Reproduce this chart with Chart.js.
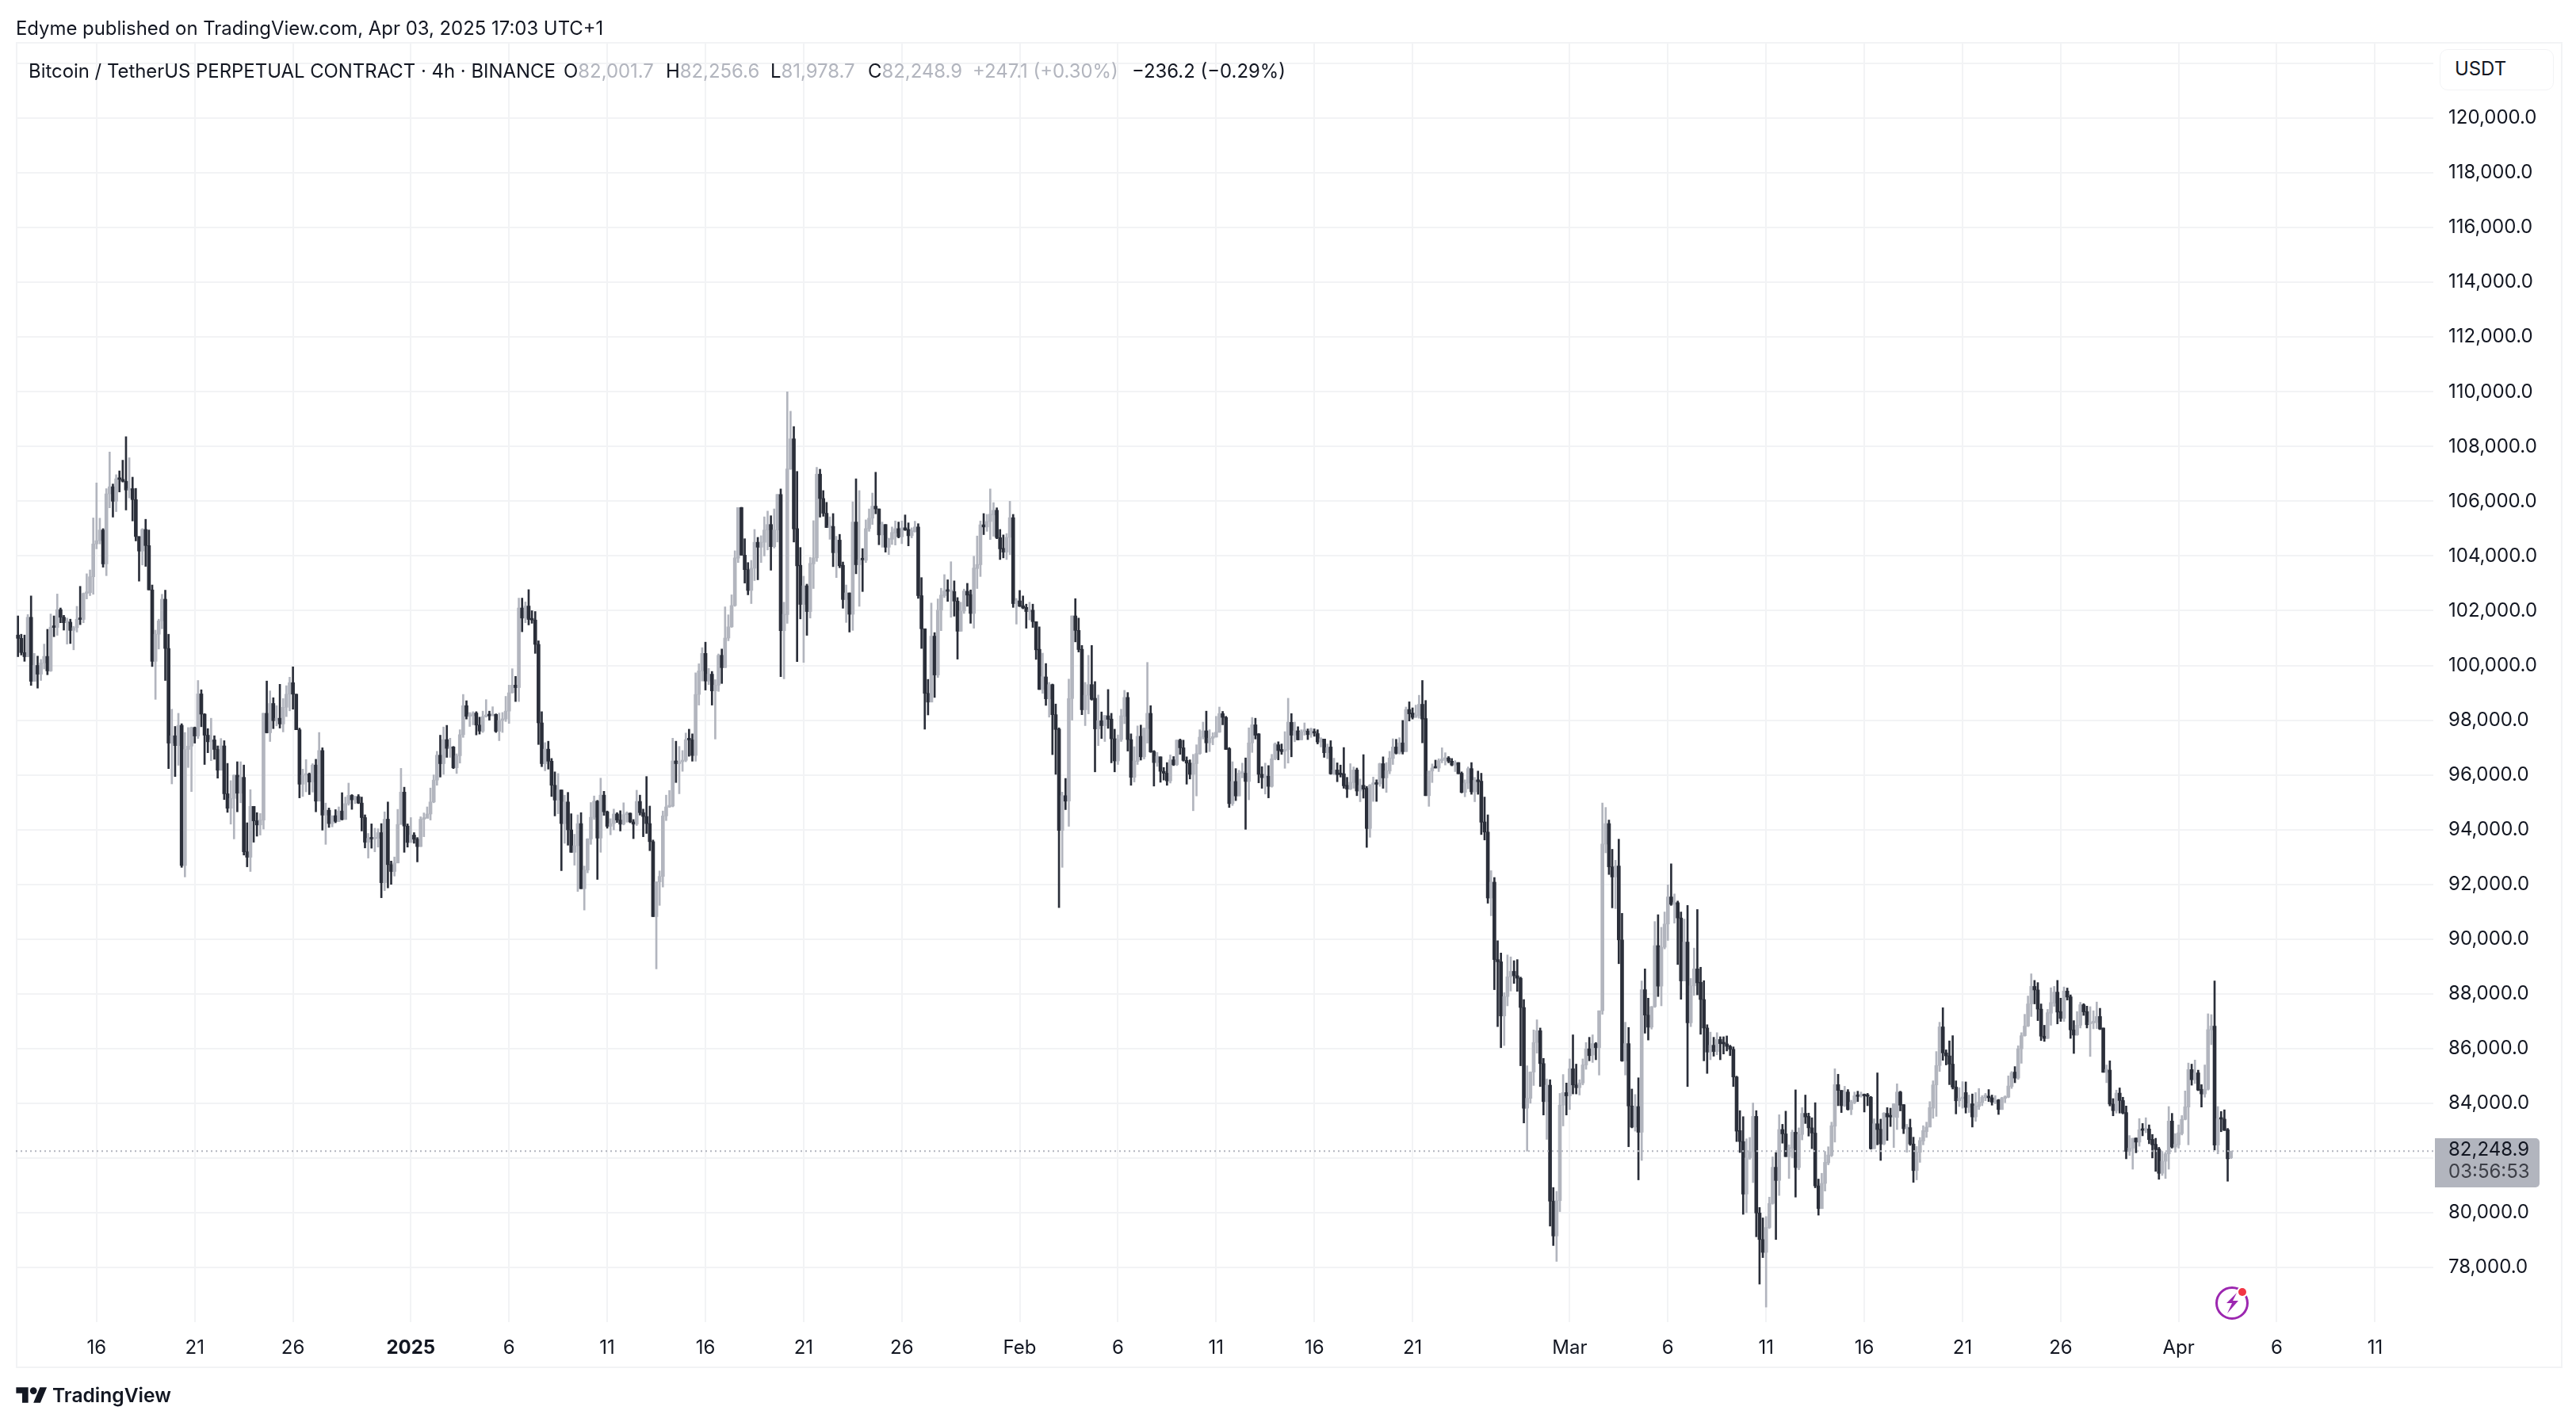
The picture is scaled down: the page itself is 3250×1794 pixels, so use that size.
<!DOCTYPE html>
<html>
<head>
<meta charset="utf-8">
<title>Bitcoin / TetherUS PERPETUAL CONTRACT</title>
<script src="https://cdn.jsdelivr.net/npm/chart.js@4/dist/chart.umd.js"></script>
<style>
html,body{margin:0;padding:0;background:#fff;width:3250px;height:1794px;overflow:hidden}
body{position:relative;font-family:Inter,"Liberation Sans",sans-serif;color:#131722}
canvas{position:absolute;left:0;top:0}
.t{position:absolute;white-space:nowrap;font-size:23.9px;line-height:30px;color:#131722}
.g{color:#b2b5be}
#frame{position:absolute;left:20px;top:53px;width:3209px;height:1669px;border:2px solid #f2f3f5;box-sizing:content-box}
#tag{position:absolute;left:3072px;width:132px;height:62px;background:#b2b5be;border-radius:0 5px 5px 0}
#unit{position:absolute;left:3078px;top:62px;width:144px;height:52px;box-sizing:border-box;border:1.5px solid #f2f3f5;border-radius:10px;background:#fff}
</style>
</head>
<body>
<div id="frame"></div>
<canvas id="c" width="3250" height="1794"></canvas>
<div class="t" style="left:20px;top:21px">Edyme published on TradingView.com, Apr 03, 2025 17:03 UTC+1</div>
<div class="t" style="left:36px;top:75px">Bitcoin / TetherUS PERPETUAL CONTRACT · 4h · BINANCE</div>
<div class="t" style="left:711px;top:75px">O<span class="g">82,001.7</span></div>
<div class="t" style="left:840px;top:75px">H<span class="g">82,256.6</span></div>
<div class="t" style="left:972px;top:75px">L<span class="g">81,978.7</span></div>
<div class="t" style="left:1095px;top:75px">C<span class="g">82,248.9</span></div>
<div class="t g" style="left:1227px;top:75px">+247.1 (+0.30%)</div>
<div class="t" style="left:1428px;top:75px">−236.2 (−0.29%)</div>
<div id="unit"></div>
<div class="t" style="left:3097px;top:72px">USDT</div>
<div id="tag"></div>
<div class="t" id="tagPrice" style="left:3089px;font-size:24px">82,248.9</div>
<div class="t" id="tagTime" style="left:3089px;font-size:24px;color:#3d3f47">03:56:53</div>
<svg style="position:absolute;left:20px;top:1748px" width="40" height="24" viewBox="0 0 36 22"><path fill="#131722" d="M14 20H7V9H0V2h14v18zM28 20h-8l7.5-18h8L28 20z"/><circle cx="20" cy="6" r="4" fill="#131722"/></svg>
<div class="t" style="left:66px;top:1745px;font-size:24.6px;font-weight:600">TradingView</div>
<svg style="position:absolute;left:2790px;top:1617px" width="50" height="50" viewBox="0 0 50 50">
<circle cx="26" cy="27" r="19.5" fill="none" stroke="#9c27b0" stroke-width="3"/>
<path fill="#9c27b0" d="M32 14 L19 27 L26 27 L20 40 L34 24 L27 24 Z"/>
<circle cx="39" cy="13" r="7" fill="#fff"/><circle cx="39" cy="13" r="5" fill="#f23645"/>
</svg>
<script>
const opens=[101110,100990,100470,100320,101760,99420,100000,99680,100090,100330,99800,101400,101390,102040,101760,101560,101580,101280,101380,101690,101680,102630,102660,103240,104440,104560,104950,103710,106270,106530,106000,106820,106800,106730,106410,106460,106060,104710,104180,104970,104380,102760,100150,101140,101630,102420,100620,97160,97430,97070,97810,92690,96930,97050,97730,97420,98960,98220,97450,97210,97280,96930,96170,97060,95310,94780,95140,95990,95330,95910,93190,92990,94850,94320,94170,94350,98250,97540,98610,97980,98070,97860,98470,98950,99370,98950,97650,95660,95990,96030,95740,96360,95040,96890,94530,94710,94220,94510,94300,94680,94370,94950,95250,95090,95210,94970,94440,93540,93680,93660,93680,93890,92060,94380,92720,92470,92780,94190,95370,94130,93530,93800,93650,93380,94380,94410,94570,95010,95810,96720,96410,97290,96970,97020,96260,96700,97470,98530,98140,98160,98260,97820,97600,98130,98180,98160,98210,97590,97990,98040,98330,99000,99280,99190,102100,101730,102170,101680,101660,100770,97900,96410,96940,96500,95620,95080,95450,94220,95010,93990,93170,93410,94220,91840,92520,93660,94450,95040,93690,95260,94650,94120,94220,94570,94350,94200,94550,94600,94280,94200,95030,94620,94480,94220,93560,90820,92090,92290,94500,94830,94860,96510,96410,96480,96530,97290,97280,96710,98940,99800,100440,99430,99680,99070,99280,100370,99920,101000,101410,102190,103920,105770,104030,103500,102740,103550,104500,104320,104500,104950,105150,104340,104950,106250,101270,101860,107180,108280,105000,103660,102230,102910,101970,103710,103930,106990,106100,105560,105040,105080,104120,104580,103660,102410,102650,101870,105240,103680,103890,103840,105000,105380,105820,105720,104770,105150,104320,104610,104840,105000,104700,105030,104970,104740,104890,105060,102550,101340,98980,98660,101070,99650,102020,102550,102720,102700,102700,102350,101250,101990,102710,102590,101900,103540,103680,105140,105060,105260,105500,105670,104670,104280,104140,104680,105400,102260,102360,102180,102120,101970,102020,101600,100590,99120,99580,98780,99300,98200,97670,93970,95240,95040,98790,101810,101280,100590,98380,98910,99300,98800,97680,97980,97800,98160,98040,97320,96510,97290,98140,98830,97290,95910,96490,97410,96660,97690,98250,96860,96450,96660,96130,96060,95780,96550,96370,97270,96990,96530,96430,96020,96410,96780,97380,97610,97170,97340,97380,97560,98240,98100,96960,94950,95760,95230,96060,96060,95760,97170,97830,97500,96020,95900,95950,95580,96590,97100,96930,96870,96920,97920,97450,97610,97280,97580,97600,97470,97570,97510,97200,97310,96810,97020,96040,96180,96060,96040,95620,95480,95720,96180,95410,95620,95510,94040,95650,95700,95670,96410,95890,96140,96600,97020,96790,97170,96850,98390,98260,98100,98170,98580,98060,95240,96140,96280,96250,96520,96570,96620,96500,96360,96450,96060,95360,95700,96230,95380,95820,95770,94280,93910,91500,92080,89250,89170,87190,87900,88620,88820,88660,88570,87500,83820,84180,85140,86220,86650,85450,84060,84660,80420,79150,80440,83930,84390,84270,85260,84670,84570,84740,85400,85990,85760,86180,86030,87380,93470,94220,92640,92270,92670,89970,85550,86180,83900,83130,83880,82940,88150,87220,86780,87530,89760,88280,89700,90550,91540,91270,91330,90770,88470,89890,86940,88290,88910,88420,87790,86750,85870,86120,85890,86330,86210,86170,86080,85970,84960,83000,82600,80680,82000,82230,83520,79990,79020,78550,79460,80340,81660,81180,83040,82880,82050,82350,82940,81650,82860,83630,83520,83100,82910,80980,80150,81070,81820,82090,83160,84680,84470,83910,84410,83770,84020,84300,84270,84300,84300,84220,82340,83250,83050,82510,83630,83550,83500,83480,84410,83950,83070,83110,82510,81540,82210,82620,82960,83130,83820,84670,85380,86790,85840,85730,85430,84590,84090,84170,84390,83850,83980,83500,83880,84020,84200,84230,84200,84040,84120,83770,84180,84220,84610,85140,84920,85990,86470,86820,87630,88270,88140,87440,86450,86370,87290,87660,88060,87350,87100,88100,87890,86680,86500,86850,87600,87350,86900,86930,86950,87170,86750,85130,85210,83970,83730,84370,84100,83660,82240,82360,82730,82580,83060,83010,83060,82680,82500,82330,81440,81880,82150,83350,82400,82480,82890,83410,83860,85230,84860,85110,84510,84340,84510,86680,86820,82470,83470,83420,83030,82001.7];
const highs=[101810,101140,101110,101860,102540,100440,100340,100220,100780,101320,101880,101810,102610,102100,101830,101730,101690,101430,102160,102890,102650,103350,103490,105390,106670,105380,105000,106460,107800,106630,106970,107110,107500,108360,107590,106880,106470,104710,105000,105340,104950,102940,101290,101690,102600,102750,101140,98400,97770,98250,97870,97550,97730,97750,97750,99450,99110,98240,97690,98070,97430,97060,97330,97250,96420,95790,96000,96480,96480,96360,94250,95460,94850,94620,94590,98250,99430,99070,98820,98530,99310,98790,99260,99570,99950,98950,97710,96210,96560,96070,96410,96570,97550,96990,94970,94790,94500,94730,94830,95350,95190,95700,95280,95220,95280,95190,94540,93860,94210,94050,94030,94220,94650,95010,92850,93000,94740,96240,95550,94210,94440,93890,93710,94470,94610,94830,95520,96000,96860,97450,97750,97810,97340,97040,96770,97650,98940,98710,98280,98310,98310,98110,98330,98750,98330,98490,98230,98260,98280,98870,99280,99880,99600,102460,102460,102320,102770,102000,101970,100900,98310,97180,97230,96600,96110,96050,95450,95260,95360,94580,93830,94540,94620,92670,93670,94990,95230,95070,95880,95400,94680,94400,94750,94620,94690,94980,94650,94610,94370,95440,95260,94750,95940,94860,93620,92090,92490,94680,95260,95430,97340,97230,97040,96890,97530,97670,97500,99730,100060,100650,100850,99890,99780,99480,100420,100600,102140,101850,102580,104190,105770,105780,104630,103760,103840,104970,104680,104740,105430,105640,105470,105720,106250,106450,102310,110000,109290,108730,107090,104310,103260,102970,103950,105290,107240,107170,106390,105960,105430,105550,104720,104790,103780,102940,102650,105980,106820,106390,104270,105320,105720,106300,107060,105720,105240,105150,104650,105060,105280,105240,105280,105500,105210,105030,105270,105180,103210,101340,99490,102280,101200,102430,102820,103320,103130,103790,103090,102480,102310,102790,103000,102760,103990,104730,105280,105550,105520,106450,105950,105760,104970,104770,104820,106000,105520,102450,102740,102540,102240,102310,102240,101600,101410,100450,100070,99380,99320,98590,97720,95370,95870,99500,101810,102440,101730,100730,99380,100370,100730,99410,98920,98300,98170,99120,98250,97670,97460,98400,99090,99010,97500,97030,97790,97820,97720,100110,98530,96890,96820,96660,96270,96450,96730,96670,97280,97310,97270,96660,96550,96750,97100,97650,97930,98330,97650,97540,98140,98480,98320,98140,97000,96480,96230,96170,96430,96620,97720,98100,98070,97510,96300,96430,96340,96750,97170,97210,97130,97580,98800,98240,97930,97760,97650,97900,97680,97710,97680,97650,97360,97310,97130,97250,96610,96440,96360,97000,95910,96410,96290,96250,95850,96740,95580,95650,95920,95820,96430,96660,96450,96860,97320,97300,97360,97990,98480,98670,98450,98550,98910,99450,98720,96140,96400,96540,96590,96990,96810,96670,96600,96520,96450,96110,95820,96290,96450,95910,96140,96060,95190,94540,92500,92250,89940,89490,88040,89420,89350,89210,89250,88610,87790,85370,85150,86680,87050,86750,85640,84890,84860,80920,80780,84360,85050,84740,85620,86500,85430,84860,85620,86220,86410,86500,86220,87380,94970,94810,94350,93280,92880,93650,90940,86960,86770,84520,84320,84930,88470,88910,87840,87540,90640,90890,90430,90990,91980,92750,91650,91390,90990,90730,91230,88560,89670,91080,88970,88480,86870,86600,86410,86580,86430,86430,86460,86120,86060,84990,83730,83510,82700,82750,84010,83730,80190,79810,79860,80570,82040,82200,83580,83230,83710,82480,83020,84490,83100,83840,84300,83640,83470,84020,81230,81440,82240,82410,83310,85260,85060,84470,84620,84500,84110,84410,84440,84410,84340,84360,84250,83430,85110,83420,83660,83840,83820,83980,84710,84440,83950,83230,83420,82760,82420,82750,83180,83310,84060,84820,85890,86960,87490,85950,86280,86470,84820,84570,84790,84780,84300,84340,84390,84540,84280,84360,84500,84300,84280,84140,84220,84270,85000,85160,85340,86100,86580,87250,87920,88730,88490,88410,87630,86850,87430,88220,88270,88490,87840,88250,88210,87960,87020,87350,87690,87640,87550,87530,87380,87700,87470,86750,85400,85550,84170,84480,84560,84220,83900,82820,82720,82730,83440,83260,83470,83210,82860,82720,82390,82240,82210,83880,83630,82890,83210,83550,84450,85470,85430,85580,85210,84680,85400,87270,87240,88470,83880,83700,83760,83080,82256.6];
const lows=[100320,100380,100150,100320,99270,99420,99170,99450,99870,99660,99780,101050,101100,101560,101290,100780,100800,100570,101220,101490,101560,102430,102550,102600,104260,104440,103590,103280,105760,105420,105620,106340,106700,105680,106120,105280,104550,103080,103670,103620,102760,99960,98760,100600,101340,99450,96230,95670,95940,96350,92620,92270,96270,95390,97160,97330,97760,96380,96810,96520,96570,95880,96170,95100,94630,94200,93660,94650,94980,93070,92640,92470,93540,93760,93800,94020,97530,97220,97690,97790,97710,97570,98130,98340,98400,97650,95160,95210,95380,95280,95370,94650,95040,93980,93460,94080,94100,94250,94290,94350,94370,94890,94740,94950,94950,93950,93330,92960,93320,93190,93360,91510,91770,91870,92000,92300,92780,94190,93170,93360,93530,93500,92820,93380,93740,94530,94350,94980,95620,95920,96020,96640,96640,96230,96050,96430,97370,98040,97770,97830,97460,97490,97550,98110,98000,98160,97550,97250,97550,97950,97880,98990,98680,98680,101230,101560,101480,101540,100440,97110,96300,96150,96210,95210,94500,94580,92500,93500,93430,93170,92700,91740,91840,91060,92420,93460,94370,92180,93170,94520,94050,93810,93990,94260,93950,94170,94270,94250,93670,94150,94530,93740,93860,93230,90820,88910,91230,91900,94330,94810,94830,95720,95310,96130,96480,96680,96500,96500,98550,99430,99100,99300,98550,97310,99050,99340,99920,100900,101390,102160,103760,104030,103010,102580,102260,103100,103130,103760,104000,104220,103480,104290,104510,99590,99510,101540,107160,104510,100140,101700,100110,101100,101730,102810,103800,105420,105450,105040,104610,103610,103210,103570,102090,101570,101220,101280,103350,102160,102700,103760,104900,105150,105540,104410,104320,104140,104050,104420,104400,104660,104450,104930,104370,104660,104870,102450,100620,97670,98190,98660,98830,99560,101270,102480,102340,101760,101800,100230,101250,101900,102160,101540,101360,102810,103250,104780,104900,104600,104720,104630,103870,103930,103870,104050,102120,101510,102150,102070,101360,101660,101390,100220,99120,98980,98540,98110,96740,96020,91150,92620,94730,94120,98000,100860,100490,98200,97800,98230,98730,96110,97070,97330,97220,97700,96440,96110,96380,97220,97870,96870,95620,95740,96380,96540,96580,97160,96820,95590,96310,95730,95810,95620,95700,96340,96340,96750,96500,95660,95850,94690,95230,96750,97310,96820,96850,97100,97380,97550,97830,96930,94810,94880,95060,95230,95890,94010,95090,96820,97310,95710,95510,95300,95160,95550,96550,96550,96750,96240,96430,96660,97210,97280,97280,97450,97290,97370,97410,97130,97020,96640,96590,96020,96010,95750,95920,95510,95170,95460,95510,95240,95020,95150,93350,93720,95030,95030,95580,95510,95360,96040,96380,96760,96760,96760,96850,97970,98040,98100,98070,97170,95240,94850,95720,96250,96120,96440,96360,96440,96330,96120,96040,95340,95200,95490,95290,95020,95290,93820,93620,91310,90850,88150,86800,86030,86110,87560,88100,88380,88090,85370,83280,82250,84000,84650,85830,84610,83570,82680,79510,78800,78220,80040,83170,83570,83770,84340,84340,84300,84670,85240,85550,85490,85590,85030,87250,93150,92360,91140,91110,89100,85530,85030,82410,83100,82980,81200,81910,86560,86310,86710,87500,87900,87560,89640,89950,91230,90580,89070,87800,88470,84610,86800,87940,87960,86520,85550,85090,85590,85720,85770,85590,85800,85910,85740,84610,82600,82200,79940,80000,81950,81100,79120,77390,78360,76550,79420,80310,79020,80630,82540,82050,81250,82000,80570,81570,82660,83260,82800,82340,80910,79910,80150,80790,81750,82050,82580,83910,83660,83880,83750,83580,83980,84060,84220,83680,83910,82320,82340,82480,81910,82480,82640,83150,82380,83040,83720,82890,82210,82460,81110,81200,81840,82480,82750,83130,83450,83520,85160,85570,85400,84680,84520,83610,83880,83820,83640,83660,83130,83340,83770,83910,84090,84060,83930,83980,83590,83770,84020,84200,84540,84750,84870,85460,86450,86800,87170,87630,87020,86290,86260,86360,86850,87540,86900,86990,86990,87770,86370,85820,86480,86750,87210,86750,85710,86720,86730,86690,85130,84750,83900,83540,83640,83640,83610,81970,82090,81590,82190,82430,82810,82920,82520,82000,81510,81220,81360,81250,81590,82360,82210,82360,82840,83390,82480,84660,84720,84460,83860,84220,84480,86140,82290,82150,82960,83000,81150,81978.7];
const closes=[100990,100470,100320,101760,99420,100000,99680,100090,100330,99800,101400,101390,102040,101760,101560,101580,101280,101380,101690,101680,102630,102660,103240,104440,104560,104950,103710,106270,106530,106000,106820,106800,106730,106410,106460,106060,104710,104180,104970,104380,102760,100150,101140,101630,102420,100620,97160,97430,97070,97810,92690,96930,97050,97730,97420,98960,98220,97450,97210,97280,96930,96170,97060,95310,94780,95140,95990,95330,95910,93190,92990,94850,94320,94170,94350,98250,97540,98610,97980,98070,97860,98470,98950,99370,98950,97650,95660,95990,96030,95740,96360,95040,96890,94530,94710,94220,94510,94300,94680,94370,94950,95250,95090,95210,94970,94440,93540,93680,93660,93680,93890,92060,94380,92720,92470,92780,94190,95370,94130,93530,93800,93650,93380,94380,94410,94570,95010,95810,96720,96410,97290,96970,97020,96260,96700,97470,98530,98140,98160,98260,97820,97600,98130,98180,98160,98210,97590,97990,98040,98330,99000,99280,99190,102100,101730,102170,101680,101660,100770,97900,96410,96940,96500,95620,95080,95450,94220,95010,93990,93170,93410,94220,91840,92520,93660,94450,95040,93690,95260,94650,94120,94220,94570,94350,94200,94550,94600,94280,94200,95030,94620,94480,94220,93560,90820,92090,92290,94500,94830,94860,96510,96410,96480,96530,97290,97280,96710,98940,99800,100440,99430,99680,99070,99280,100370,99920,101000,101410,102190,103930,105770,104030,103500,102740,103550,104500,104320,104500,104950,105150,104340,104950,106250,101270,101870,107180,108280,104990,103640,102230,102910,101970,103730,103930,106990,106100,105560,105040,105110,104120,104580,103640,102410,102650,101870,105240,103680,103860,103860,105000,105380,105820,105720,104770,105150,104320,104630,104860,105000,104700,105030,104950,104740,104920,105060,102550,101340,98980,98660,101070,99650,102020,102570,102720,102710,102730,102350,101250,101990,102720,102570,101900,103560,103690,105140,105060,105260,105530,105670,104670,104260,104140,104680,105400,102260,102360,102160,102100,101970,102040,101600,100570,99120,99590,98780,99300,98200,97660,93970,95240,95040,98790,101810,101280,100580,98380,98910,99300,98760,97680,97980,97800,98170,98030,97320,96510,97290,98160,98830,97290,95910,96510,97410,96660,97700,98250,96840,96450,96680,96130,96060,95780,96550,96370,97270,96990,96530,96430,96020,96410,96780,97380,97610,97170,97340,97380,97560,98240,98100,96930,94950,95760,95230,96060,96090,95760,97170,97830,97450,96020,95900,95990,95580,96590,97130,96890,96850,96900,97930,97450,97610,97280,97580,97650,97470,97680,97530,97200,97320,96810,97000,96040,96180,96010,96010,95600,95480,95730,96180,95410,95620,95480,94040,95630,95690,95660,96410,95890,96150,96620,97020,96790,97170,96850,98390,98230,98100,98190,98580,98040,95240,96140,96250,96250,96520,96570,96620,96500,96360,96450,96040,95360,95700,96230,95380,95800,95750,94270,93910,91500,92080,89250,89170,87190,87900,88620,88820,88660,88570,87500,83820,84180,85140,86220,86650,85450,84060,84660,80420,79150,80440,83930,84390,84270,85260,84670,84570,84740,85400,85990,85740,86180,86030,87380,93470,94220,92640,92270,92670,89970,85550,86180,83900,83130,83880,82940,88150,87220,86780,87530,89760,88280,89700,90550,91540,91270,91330,90770,88470,89890,86940,88290,88910,88400,87790,86750,85870,86120,85890,86330,86180,86170,86080,85970,84960,82980,82600,80680,82000,82230,83520,79990,79020,78550,79460,80340,81660,81180,83040,82880,82050,82380,82940,81650,82860,83630,83500,83100,82910,80980,80150,81070,81840,82110,83180,84680,84470,83910,84410,83770,84040,84270,84250,84330,84270,84250,82340,83250,83040,82510,83640,83500,83500,83980,84410,83930,83070,83130,82510,81540,82210,82640,83000,83130,83840,84670,85380,86790,85840,85730,85430,84590,84090,84180,84200,83850,83980,83500,83900,84040,84220,84300,84200,84040,84110,83770,84180,84220,84630,85110,84920,85990,86470,86820,87630,88270,88140,87440,86450,86370,87310,87680,88060,87330,87100,88100,87880,86680,86490,86850,87600,87340,86870,86930,87000,87170,86710,85130,85240,83970,83730,84370,84100,83640,82240,82360,82720,82580,83030,83010,83080,82670,82480,82310,81440,81880,82150,83350,82400,82500,82920,83410,83870,85230,84860,85110,84480,84340,84510,86690,86820,82470,83440,83420,83010,81970,82248.9];
const tickDays=[0,5,10,16,21,26,31,36,41,47,52,57,62,67,75,80,85,90,95,100,106,111,116];
const tickLabels=["16","21","26","2025","6","11","16","21","26","Feb","6","11","16","21","Mar","6","11","16","21","26","Apr","6","11"];
const priceTicks=[78000,80000,82000,84000,86000,88000,90000,92000,94000,96000,98000,100000,102000,104000,106000,108000,110000,112000,114000,116000,118000,120000,122000];
const firstBarDay=-4, barsPerDay=6, lastPrice=82248.9;
const UP='#b2b5be', DOWN='#2a2e39', GRID='#f2f3f5';
const colour=i=>closes[i]>=opens[i]?UP:DOWN;
const barX=i=>firstBarDay+i/barsPerDay;
const bodyData=opens.map((o,i)=>({x:barX(i),y:[o,closes[i]]}));
const wickData=opens.map((o,i)=>({x:barX(i),y:[lows[i],highs[i]]}));
const colours=opens.map((o,i)=>colour(i));
const fmt=v=>v.toLocaleString('en-US',{minimumFractionDigits:1,maximumFractionDigits:1});
const lastLine={id:'lastLine',afterDatasetsDraw(ch){
  const y=ch.scales.y.getPixelForValue(lastPrice),a=ch.chartArea,c=ch.ctx;
  c.save();c.strokeStyle='#b2b5be';c.lineWidth=2;c.setLineDash([2,4]);
  c.beginPath();c.moveTo(a.left,y);c.lineTo(a.right,y);c.stroke();c.restore();
}};
const chart=new Chart(document.getElementById('c'),{
  type:'bar',
  data:{datasets:[
    {label:'Body',data:bodyData,backgroundColor:colours,barThickness:4,minBarLength:2,order:1,grouped:false,borderWidth:0,borderSkipped:false},
    {label:'Wick',data:wickData,backgroundColor:colours,barThickness:2,order:2,grouped:false,borderWidth:0,borderSkipped:false}
  ]},
  plugins:[lastLine],
  options:{
    responsive:false,animation:false,devicePixelRatio:1,
    layout:{padding:{left:20,top:53,right:20,bottom:71}},
    plugins:{legend:{display:false},tooltip:{enabled:false}},
    scales:{
      x:{type:'linear',offset:false,min:-4.108,max:118.97,
        grid:{color:GRID,lineWidth:2,drawTicks:false,offset:false},border:{display:false},
        afterBuildTicks(ax){ax.ticks=tickDays.map(v=>({value:v}));},
        afterFit(ax){ax.height=55;},
        ticks:{autoSkip:false,maxRotation:0,padding:18,color:'#131722',
          font:c=>({family:'Inter',size:24,weight:tickLabels[c.index]==='2025'?'700':'400'}),
          callback:(v,i)=>tickLabels[i]}},
      y:{type:'linear',position:'right',min:76001,max:122783,
        grid:{color:GRID,lineWidth:2,drawTicks:false},border:{display:false},
        afterBuildTicks(ax){ax.ticks=priceTicks.map(v=>({value:v}));},
        afterFit(ax){ax.width=160;},
        ticks:{autoSkip:false,padding:19,color:'#131722',font:{family:'Inter',size:24},
          callback:v=>v===122000?'':fmt(v)}}
    }
  }
});
const py=chart.scales.y.getPixelForValue(lastPrice);
document.getElementById('tag').style.top=(py-16)+'px';
document.getElementById('tagPrice').style.top=(py-17)+'px';
document.getElementById('tagTime').style.top=(py+11)+'px';
document.getElementById('tagPrice').textContent=fmt(lastPrice);
</script>
</body>
</html>
